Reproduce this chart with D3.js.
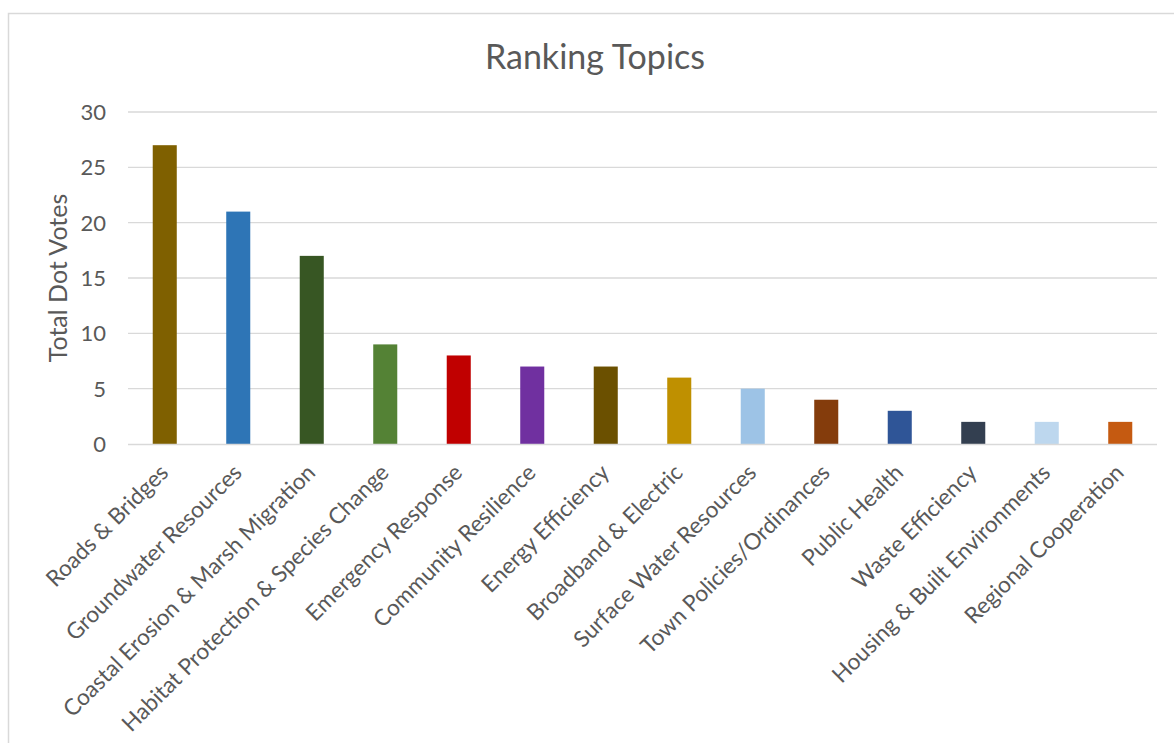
<!DOCTYPE html>
<html>
<head>
<meta charset="utf-8">
<script src="https://cdn.jsdelivr.net/npm/d3@7"></script>
<style>
  body { margin: 0; background: #fff; }
  text { font-family: Lato, "Open Sans", sans-serif; fill: #595959; }
</style>
</head>
<body>
<div id="chart"></div>
<script>
var topics = ["Roads & Bridges", "Groundwater Resources", "Coastal Erosion & Marsh Migration",
              "Habitat Protection & Species Change", "Emergency Response", "Community Resilience",
              "Energy Efficiency", "Broadband & Electric", "Surface Water Resources",
              "Town Policies/Ordinances", "Public Health", "Waste Efficiency",
              "Housing & Built Environments", "Regional Cooperation"];
var votes = [27, 21, 17, 9, 8, 7, 7, 6, 5, 4, 3, 2, 2, 2];
var barColours = ["#7f6000", "#2e75b6", "#375623", "#548235", "#c00000", "#7030a0",
                  "#6b5000", "#bf9000", "#9dc3e6", "#843c0c", "#2f5597", "#333f50",
                  "#bdd7ee", "#c55a11"];
var yTicks = [0, 5, 10, 15, 20, 25, 30];

function init() {
  var w = 1174;
  var h = 743;
  var left = 128, right = 1157, top = 112, bottom = 444;

  var svg = d3.select("#chart")
    .append("svg")
    .attr("width", w)
    .attr("height", h);

  // chart border (runs off the right and bottom edges)
  svg.append("rect")
    .attr("x", 8.5)
    .attr("y", 13.5)
    .attr("width", w + 20)
    .attr("height", h + 20)
    .attr("fill", "none")
    .attr("stroke", "#d9d9d9")
    .attr("stroke-width", 1.5);

  var x = d3.scaleBand()
    .domain(topics)
    .range([left, right])
    .paddingInner(0.673)
    .paddingOuter(0.3365);

  var y = d3.scaleLinear()
    .domain([0, 30])
    .range([bottom, top]);

  // gridlines
  svg.selectAll(".grid")
    .data(yTicks.slice(1))
    .enter()
    .append("line")
    .attr("class", "grid")
    .attr("x1", left)
    .attr("x2", right)
    .attr("y1", function(d) { return y(d); })
    .attr("y2", function(d) { return y(d); })
    .style("stroke", "#d9d9d9")
    .style("stroke-width", 1.3);

  // bars
  svg.selectAll(".bar")
    .data(votes)
    .enter()
    .append("rect")
    .attr("class", "bar")
    .attr("x", function(d, i) { return x(topics[i]); })
    .attr("width", x.bandwidth())
    .attr("y", function(d) { return y(d); })
    .attr("height", function(d) { return y(0) - y(d); })
    .attr("fill", function(d, i) { return barColours[i]; });

  // x axis line
  svg.append("line")
    .attr("x1", left)
    .attr("x2", right)
    .attr("y1", y(0) + 0.5)
    .attr("y2", y(0) + 0.5)
    .style("stroke", "#d9d9d9")
    .style("stroke-width", 1.5);

  // y tick labels
  svg.selectAll(".ytick")
    .data(yTicks)
    .enter()
    .append("text")
    .attr("class", "ytick")
    .attr("x", 106)
    .attr("y", function(d) { return y(d); })
    .attr("dy", "0.36em")
    .style("font-size", "22px")
    .style("text-anchor", "end")
    .text(function(d) { return d; });

  // category labels, rotated
  svg.selectAll(".xlabel")
    .data(topics)
    .enter()
    .append("text")
    .attr("class", "xlabel")
    .attr("transform", function(d) {
      var cx = x(d) + x.bandwidth() / 2;
      return "translate(" + (cx + 5) + "," + 474 + ") rotate(-45)";
    })
    .style("font-size", "22.6px")
    .style("text-anchor", "end")
    .text(function(d) { return d; });

  // y axis title
  svg.append("text")
    .attr("transform", "translate(67,278) rotate(-90)")
    .style("font-size", "25px")
    .style("text-anchor", "middle")
    .text("Total Dot Votes");

  // chart title
  svg.append("text")
    .attr("x", 595)
    .attr("y", 69)
    .style("font-size", "34px")
    .style("text-anchor", "middle")
    .text("Ranking Topics");
}

window.onload = init;
</script>
</body>
</html>
